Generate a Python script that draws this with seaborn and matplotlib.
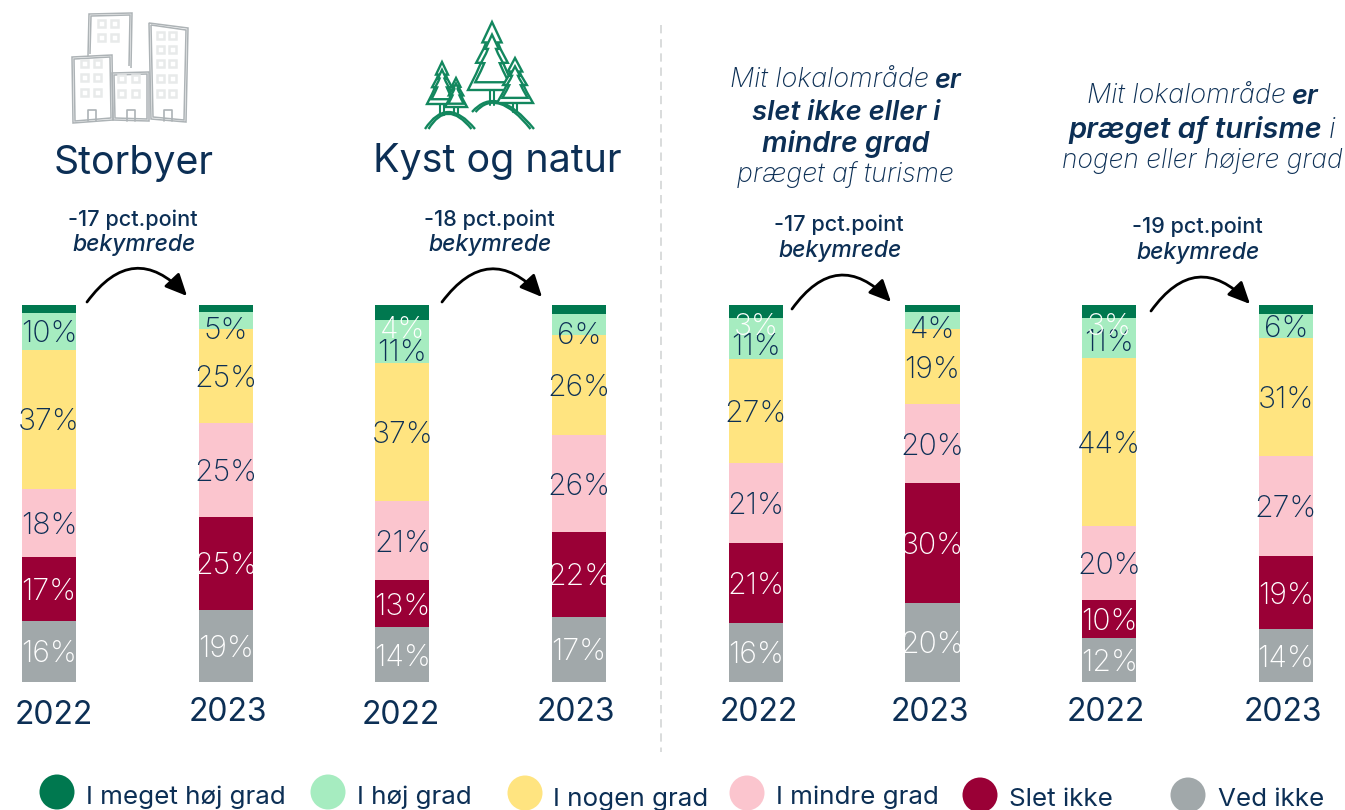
import numpy as np
import pandas as pd
import matplotlib
matplotlib.use("Agg")
import matplotlib.pyplot as plt
import seaborn as sns
from matplotlib.patches import Circle, FancyArrowPatch, Polygon, Rectangle, PathPatch
from matplotlib.path import Path
from matplotlib.transforms import ScaledTranslation

# ---- data ----
slots = ["Storbyer 2022", "Storbyer 2023", "Kyst 2022", "Kyst 2023",
         "Lav turisme 2022", "Lav turisme 2023", "Turisme 2022", "Turisme 2023"]
years = ["2022", "2023", "2022", "2023", "2022", "2023", "2022", "2023"]
series_names = ["Ved ikke", "Slet ikke", "I mindre grad", "I nogen grad", "I høj grad", "I meget høj grad"]

ved_ikke = [16.2, 19.1, 14.5, 17.3, 15.7, 21.0, 11.7, 14.0]
slet_ikke = [17.0, 24.7, 12.5, 22.5, 21.2, 31.7, 10.1, 19.4]
mindre_grad = [18.0, 24.9, 21.0, 25.7, 21.2, 21.0, 19.6, 26.5]
nogen_grad = [36.9, 24.9, 36.6, 26.5, 27.6, 19.9, 44.6, 31.3]
hoej_grad = [9.8, 4.5, 11.4, 5.6, 10.9, 4.5, 10.6, 6.4]
meget_hoej = [2.1, 1.9, 4.0, 2.4, 3.4, 1.9, 3.4, 2.4]

lbl_ved = [16, 19, 14, 17, 16, 20, 12, 14]
lbl_slet = [17, 25, 13, 22, 21, 30, 10, 19]
lbl_mindre = [18, 25, 21, 26, 21, 20, 20, 27]
lbl_nogen = [37, 25, 37, 26, 27, 19, 44, 31]
lbl_hoej = [10, 5, 11, 6, 11, 4, 11, 6]
lbl_meget = [None, None, 4, None, 3, None, 3, None]

# ---- style ----
NAVY = "#0C2F55"
COLORS = ["#A1A8AA", "#9A0036", "#FBC5CE", "#FFE480", "#A6ECC0", "#00784F"]
LABEL_COLORS = ["white", "white", NAVY, NAVY, NAVY, "white"]

sns.set_theme(style="white")
FONT = ["Inter", "Noto Sans", "DejaVu Sans"]
plt.rcParams["font.family"] = FONT

W, H = 1345, 810
fig = plt.figure(figsize=(W / 100, H / 100), dpi=100, facecolor="white")

BAR_TOP, BAR_BOTTOM = 305, 682
ax = fig.add_axes([0, (H - BAR_BOTTOM) / H, 1, (BAR_BOTTOM - BAR_TOP) / H])

all_vals = [ved_ikke, slet_ikke, mindre_grad, nogen_grad, hoej_grad, meget_hoej]
all_lbls = [lbl_ved, lbl_slet, lbl_mindre, lbl_nogen, lbl_hoej, lbl_meget]

# pixel nudges for labels that sit off their segment's centre
nudge = {(1, 4): 7, (2, 4): 8, (3, 4): 8, (4, 4): 6, (5, 4): 6, (6, 4): 2,
         (2, 5): 14, (4, 5): 13, (6, 5): 13}

bottom = np.zeros(len(slots))
for k, (name, vals, lbls) in enumerate(zip(series_names, all_vals, all_lbls)):
    df = pd.DataFrame({"slot": slots, "share": vals})
    sns.barplot(data=df, x="slot", y="share", order=slots, color=COLORS[k], saturation=1,
                width=0.306, errorbar=None, bottom=bottom, linewidth=0, ax=ax)
    for i, lab in enumerate(lbls):
        if lab is None:
            continue
        ax.annotate(f"{lab}%", xy=(i, bottom[i] + vals[i] / 2),
                    xytext=(0, -nudge.get((i, k), 0) * 0.72), textcoords="offset points",
                    ha="center", va="center_baseline", fontsize=21.8, fontweight="light",
                    color=LABEL_COLORS[k], zorder=5, annotation_clip=False)
    bottom = bottom + np.array(vals)

ax.set_xlim(-49 / 176.7, (W - 49) / 176.7)
ax.set_ylim(0, 100)
ax.set_xlabel("")
ax.set_ylabel("")
ax.set_yticks([])
ax.set_xticks(range(len(slots)))
ax.set_xticklabels(years, fontsize=23, color=NAVY, fontweight="regular")
ax.tick_params(axis="x", length=0, pad=11)
sns.despine(ax=ax, left=True, bottom=True)
year_dx = [5, 2, -2, -3, 3, -3, -3, -3]
year_dy = [3, 0, 3, 0, 0, 0, 0, 0]
for t, dx, dy in zip(ax.get_xticklabels(), year_dx, year_dy):
    t.set_transform(t.get_transform() + ScaledTranslation(dx / 100, -dy / 100, fig.dpi_scale_trans))
ax.patch.set_alpha(0)

# ---- overlay in pixel coordinates ----
ov = fig.add_axes([0, 0, 1, 1], zorder=3)
ov.set_xlim(0, W)
ov.set_ylim(H, 0)
ov.axis("off")

ov.plot([661, 661], [25, 752], color="#D3D6D6", lw=1.2, dashes=(5, 3.5))

def txt(x, y, s, size, weight="regular", style="normal", ha="center", color=NAVY):
    return ov.text(x, y, s, fontsize=size, fontweight=weight, fontstyle=style, ha=ha,
                   va="center_baseline", color=color)

txt(134, 160, "Storbyer", 28.3)
txt(497, 158, "Kyst og natur", 28.4)

for x, y, s in [(133, 218, "-17 pct.point"), (489, 218, "-18 pct.point"),
                (839, 223, "-17 pct.point"), (1197, 225, "-19 pct.point")]:
    txt(x, y, s, 15.6, weight="medium")
    txt(x + 1, y + 25, "bekymrede", 16.5, weight="medium", style="italic")

renderer = fig.canvas.get_renderer()

def rich(xc, y, runs, size):
    """Centre a line made of (text, weight) runs on xc."""
    items = []
    total = 0
    for s, w in runs:
        t = ov.text(0, y, s, fontsize=size, fontweight=w, fontstyle="italic", color=NAVY,
                    va="center_baseline", ha="left")
        wd = t.get_window_extent(renderer).width
        items.append((t, wd))
        total += wd
    total += size * 0.3 * (len(runs) - 1)
    x = xc - total / 2
    for t, wd in items:
        t.set_x(x)
        x += wd + size * 0.3

L, B = "light", "semibold"
rich(846, 78, [("Mit lokalområde", L), ("er", B)], 19.5)
rich(846, 110, [("slet ikke eller i", B)], 19.8)
rich(846, 141, [("mindre grad", B)], 20.4)
rich(845, 172, [("præget af turisme", L)], 19.3)
rich(1203, 94, [("Mit lokalområde", L), ("er", B)], 19.5)
rich(1202, 127, [("præget af turisme", B), ("i", L)], 21)
rich(1202, 158, [("nogen eller højere grad", L)], 19)

for x0, y0, x1, y1 in [(87, 302, 187, 296), (442, 302, 542, 297),
                       (792, 309, 891, 302), (1151, 311, 1250, 304)]:
    ov.add_patch(FancyArrowPatch((x0, y0), (x1, y1), connectionstyle="arc3,rad=-0.6",
                                 arrowstyle="-|>,head_length=6,head_width=2.8", shrinkA=0, shrinkB=0,
                                 lw=2, color="black", mutation_scale=2.2))

# legend
legend_items = [("I meget høj grad", "#00784F", 57, 792, 86, 795),
                ("I høj grad", "#A6ECC0", 328, 792, 357, 795),
                ("I nogen grad", "#FFE480", 525, 793, 553, 797),
                ("I mindre grad", "#FBC5CE", 747, 793, 776, 795),
                ("Slet ikke", "#9A0036", 980, 795, 1009, 797),
                ("Ved ikke", "#A1A8AA", 1188, 795, 1218, 797)]
for name, c, cx, cy, tx, ty in legend_items:
    ov.add_patch(Circle((cx, cy), 17.5, fc=c, ec="none"))
    txt(tx, ty, name, 18.7, weight="regular", ha="left")

# ---- building icon ----
G = "#ADB3B6"
WIN = "#E8EAEA"
def outline(pts, lw=1.1, closed=True):
    for off in (0, 2.0):
        cx = np.mean([p[0] for p in pts])
        cy = np.mean([p[1] for p in pts])
        p = [(x + np.sign(cx - x) * off, y + np.sign(cy - y) * off) for x, y in pts]
        ov.add_patch(Polygon(p, closed=closed, fc="none", ec=G, lw=lw))

# tall rear building, open at its foot behind the others
outline([(88, 56), (89, 14), (132, 13), (131, 68)], closed=False)
outline([(72, 57), (112, 55), (113, 120), (73, 123)])
outline([(112, 73), (149, 72), (149, 121), (113, 120)])
outline([(149, 23), (188, 28), (186, 122), (151, 119)])
for xs, ys in [((98, 111), (20, 34)), ((81, 94), (60, 74, 89)), ((118, 132), (75, 90)),
               ((157, 169), (32, 46, 60, 75, 90))]:
    for x in xs:
        for y in ys:
            ov.add_patch(Rectangle((x, y), 6.5, 6.5, fc="white", ec=WIN, lw=1.8))
for x in (88, 127, 164):
    ov.plot([x, x, x + 7.5, x + 7.5], [121, 110, 110, 121], color=G, lw=1.2)

# ---- tree icon ----
GR = "#12875E"
TREE = [(0, 0), (0.40, 0.30), (0.24, 0.30), (0.36, 0.40), (0.66, 0.60), (0.46, 0.60),
        (0.66, 0.76), (1, 1)]
def tree(cx, top, base, hw, trunk_end, z):
    for scale, fill in [(1.0, "white"), (0.70, "none")]:
        h = base - top
        midy = top + h * 0.62
        left = [(cx - hw * scale * a, midy + (top + h * b - midy) * scale) for a, b in TREE]
        right = [(cx + hw * scale * a, midy + (top + h * b - midy) * scale) for a, b in TREE[::-1]]
        ov.add_patch(Polygon(left + right[:-1], closed=True, fc=fill, ec=GR, lw=1.7, zorder=z))
    ov.plot([cx - 2, cx - 2], [base, trunk_end], color=GR, lw=1.5, zorder=z)
    ov.plot([cx + 2, cx + 2], [base, trunk_end], color=GR, lw=1.5, zorder=z)

def hill(x0, y0, xc, yc, x1, y1):
    for d in (0, 3.5):
        verts = [(x0 + d, y0), (xc, 2 * yc - (y0 + y1) / 2 + d), (x1 - d, y1)]
        ov.add_patch(PathPatch(Path(verts, [Path.MOVETO, Path.CURVE3, Path.CURVE3]),
                               fc="none", ec=GR, lw=1.7, zorder=2.6))

hill(425, 129, 447, 112, 475, 129)
hill(472, 112, 497, 102, 534, 129)
tree(492, 22, 90, 24, 105, 2.7)
tree(515, 58, 103, 18, 112, 2.8)
tree(442, 62, 104, 15, 115, 2.9)
tree(456, 78, 107, 11, 113, 3.0)

fig.savefig("out.png", dpi=100, facecolor="white")
